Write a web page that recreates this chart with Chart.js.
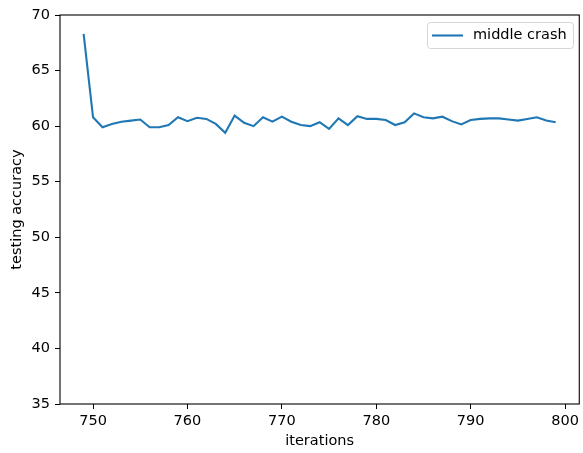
<!DOCTYPE html>
<html>
<head>
<meta charset="utf-8">
<script src="https://cdn.jsdelivr.net/npm/chart.js@4/dist/chart.umd.min.js"></script>
<style>
  html, body { margin: 0; padding: 0; background: #fff; }
  #wrap { width: 583px; height: 453px; }
</style>
</head>
<body>
<div id="wrap"><canvas id="c" width="583" height="453"></canvas></div>
<script>
// Iteration numbers and the testing accuracy measured at each one
const iterations = [
  749, 750, 751, 752, 753, 754, 755, 756, 757, 758,
  759, 760, 761, 762, 763, 764, 765, 766, 767, 768,
  769, 770, 771, 772, 773, 774, 775, 776, 777, 778,
  779, 780, 781, 782, 783, 784, 785, 786, 787, 788,
  789, 790, 791, 792, 793, 794, 795, 796, 797, 798,
  799
];
const middleCrash = [
  68.3, 60.8, 59.9, 60.2, 60.4, 60.5, 60.6, 59.9, 59.9, 60.1,
  60.8, 60.45, 60.75, 60.65, 60.2, 59.4, 60.95, 60.3, 60.0, 60.8,
  60.4, 60.85, 60.4, 60.1, 60.0, 60.35, 59.75, 60.7, 60.1, 60.9,
  60.65, 60.65, 60.55, 60.1, 60.35, 61.15, 60.8, 60.7, 60.85, 60.45,
  60.15, 60.55, 60.65, 60.7, 60.7, 60.6, 60.5, 60.65, 60.8, 60.5,
  60.35
];
const seriesLabel = 'middle crash';
const xTicks = [750, 760, 770, 780, 790, 800];
const yTicks = [35, 40, 45, 50, 55, 60, 65, 70];

const FONT = 'DejaVu Sans';
const FONT_SIZE = 14.5;
Chart.defaults.font.family = FONT;
Chart.defaults.font.size = FONT_SIZE;
Chart.defaults.color = '#000';

// Frame around the plotting area plus an in-plot legend box
const framePlugin = {
  id: 'frame',
  afterDatasetsDraw(chart) {
    const { ctx, chartArea: a } = chart;
    ctx.save();
    ctx.strokeStyle = '#000';
    ctx.lineWidth = 1.1;
    ctx.strokeRect(a.left, a.top, a.right - a.left, a.bottom - a.top);

    // legend
    const ds = chart.data.datasets[0];
    const bx = 427.5, by = 22.5, bw = 146, bh = 26, r = 3;
    ctx.globalAlpha = 0.8;
    ctx.fillStyle = '#fff';
    ctx.strokeStyle = '#cccccc';
    ctx.lineWidth = 1;
    ctx.beginPath();
    ctx.moveTo(bx + r, by);
    ctx.lineTo(bx + bw - r, by);
    ctx.quadraticCurveTo(bx + bw, by, bx + bw, by + r);
    ctx.lineTo(bx + bw, by + bh - r);
    ctx.quadraticCurveTo(bx + bw, by + bh, bx + bw - r, by + bh);
    ctx.lineTo(bx + r, by + bh);
    ctx.quadraticCurveTo(bx, by + bh, bx, by + bh - r);
    ctx.lineTo(bx, by + r);
    ctx.quadraticCurveTo(bx, by, bx + r, by);
    ctx.closePath();
    ctx.fill();
    ctx.stroke();
    ctx.globalAlpha = 1;
    ctx.strokeStyle = ds.borderColor;
    ctx.lineWidth = ds.borderWidth;
    ctx.beginPath();
    ctx.moveTo(432, 35.5);
    ctx.lineTo(463, 35.5);
    ctx.stroke();
    ctx.fillStyle = '#000';
    ctx.font = FONT_SIZE + 'px ' + FONT;
    ctx.textBaseline = 'middle';
    ctx.textAlign = 'left';
    ctx.fillText(ds.label, 473, 35.5);
    ctx.restore();
  }
};

new Chart(document.getElementById('c'), {
  type: 'line',
  data: {
    datasets: [{
      label: seriesLabel,
      data: iterations.map((x, i) => ({ x: x, y: middleCrash[i] })),
      borderColor: '#1f77b4',
      borderWidth: 2.1,
      pointRadius: 0,
      tension: 0,
      fill: false
    }]
  },
  options: {
    responsive: false,
    animation: false,
    layout: { padding: { top: 15, right: 2, left: 0, bottom: 0 } },
    plugins: { legend: { display: false }, tooltip: { enabled: false } },
    scales: {
      x: {
        type: 'linear',
        min: 746.5,
        max: 801.5,
        afterFit(s) { s.height = 49; },
        afterBuildTicks(s) { s.ticks = xTicks.map(v => ({ value: v })); },
        ticks: { includeBounds: false, maxRotation: 0, autoSkip: false, padding: 4,
                 callback: v => String(v) },
        grid: { drawOnChartArea: false, drawTicks: true, tickLength: 5, color: '#000', lineWidth: 1 },
        border: { display: false },
        title: { display: true, text: 'iterations', padding: { top: 0, bottom: 3 } }
      },
      y: {
        type: 'linear',
        min: 35,
        max: 70,
        afterFit(s) { s.width = 60; },
        afterBuildTicks(s) { s.ticks = yTicks.map(v => ({ value: v })); },
        ticks: { includeBounds: false, padding: 5, autoSkip: false, callback: v => String(v) },
        grid: { drawOnChartArea: false, drawTicks: true, tickLength: 5, color: '#000', lineWidth: 1 },
        border: { display: false },
        title: { display: true, text: 'testing accuracy', padding: { top: 9, bottom: 0 } }
      }
    }
  },
  plugins: [framePlugin]
});
</script>
</body>
</html>
